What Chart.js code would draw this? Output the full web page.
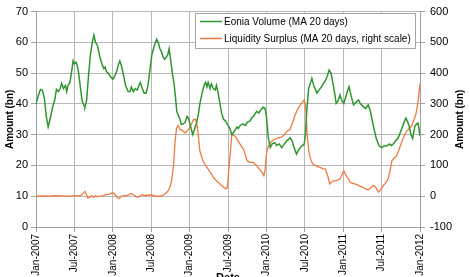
<!DOCTYPE html>
<html>
<head>
<meta charset="utf-8">
<script src="https://cdn.jsdelivr.net/npm/chart.js@4.4.1/dist/chart.umd.min.js"></script>
<style>
  html, body { margin: 0; padding: 0; background: #fff; }
  #wrap { width: 470px; height: 277px; position: relative; }
</style>
</head>
<body>
<div id="wrap"><canvas id="chart"></canvas></div>
<script>
// tick labels for the date axis (months since Jan-2007, every 6 months)
const dateLabels = ['Jan-2007', 'Jul-2007', 'Jan-2008', 'Jul-2008', 'Jan-2009', 'Jul-2009',
                    'Jan-2010', 'Jul-2010', 'Jan-2011', 'Jul-2011', 'Jan-2012'];

// Eonia volume, MA 20 days (left scale, bn) - x in months since Jan-2007
const eoniaMonths = [0, 0.4, 0.7, 1.0, 1.3, 1.6, 1.9, 2.2, 2.6, 2.9, 3.2, 3.5, 3.8, 4.0, 4.3, 4.6, 4.8, 5.0, 5.3, 5.6,
  5.8, 6.0, 6.3, 6.6, 6.9, 7.2, 7.5, 7.65, 7.9, 8.2, 8.5, 8.8, 9.05, 9.3, 9.6, 10.0, 10.3, 10.6, 10.8, 11.0,
  11.3, 11.6, 12.0, 12.3, 12.6, 12.9, 13.1, 13.4, 13.7, 14.0, 14.4, 14.7, 14.9, 15.2, 15.5, 15.8, 16.1, 16.3, 16.6, 16.9,
  17.2, 17.5, 17.8, 18.1, 18.5, 18.85, 19.1, 19.35, 19.6, 19.9, 20.1, 20.3, 20.6, 20.8, 21.0, 21.3, 21.6, 21.8, 22.0, 22.3,
  22.5, 22.7, 23.0, 23.3, 23.6, 23.8, 24.0, 24.3, 24.5, 24.8, 25.1, 25.4, 25.6, 25.9, 26.25, 26.5, 26.7, 26.9, 27.2, 27.4,
  27.7, 28.0, 28.2, 28.5, 28.75, 29.0, 29.3, 29.6, 30.0, 30.3, 30.6, 30.8, 31.1, 31.4, 31.6, 31.9, 32.3, 32.7, 33.0, 33.4,
  33.7, 34.0, 34.3, 34.5, 34.8, 35.1, 35.5, 35.8, 36.0, 36.3, 36.6, 36.9, 37.3, 37.6, 38.0, 38.4, 38.8, 39.2, 39.7, 40.0,
  40.3, 40.7, 41.0, 41.5, 41.9, 42.1, 42.3, 42.6, 43.1, 43.4, 43.9, 44.2, 44.6, 44.9, 45.2, 45.5, 45.8, 46.1, 46.4, 46.7,
  46.9, 47.2, 47.5, 47.8, 48.1, 48.5, 48.9, 49.2, 49.6, 50.0, 50.4, 50.7, 51.1, 51.5, 51.9, 52.2, 52.4, 52.8, 53.2, 53.6,
  54.0, 54.4, 54.8, 55.2, 55.5, 55.8, 56.2, 56.6, 57.1, 57.5, 57.8, 58.1, 58.3, 58.6, 58.85, 59.2, 59.5, 59.7, 60.0];
const eoniaVolume = [40, 43, 44.7, 44.5, 42, 36, 32.5, 35, 39, 41, 44.7, 44, 45, 46.7, 45, 46, 44, 46, 47, 51,
  54, 53, 53.5, 51, 46, 41, 39.5, 39, 41, 49, 56, 60, 62.4, 60, 59, 55, 53, 51.5, 52, 50.5,
  50, 49, 48, 49, 50.5, 53, 54, 52, 49, 46, 44, 44, 45.5, 44, 45, 44.5, 46, 47, 45, 43.5,
  43.5, 46, 51, 56, 59, 61, 60, 58, 57, 55, 54.5, 55, 56, 58, 55, 50, 46, 42, 37.5, 36,
  35, 33.3, 33.5, 34, 36, 35.5, 34, 31.5, 30, 32, 34, 37, 40, 43, 46, 47, 45.5, 47, 45, 46.5,
  45, 44.5, 46, 43, 40, 37, 35, 34.5, 33, 32, 30, 30.5, 31.5, 32.5, 32, 33, 33.5, 33, 34, 34.4,
  35.5, 36, 37, 37.6, 37, 38, 38.9, 38.5, 36, 29, 25.8, 27, 27.4, 26.5, 27, 25.8, 27, 28, 29, 28,
  26, 23.7, 25, 26.3, 26.9, 30, 37.6, 45, 48.3, 46, 43.5, 44.5, 45.5, 46.7, 47.5, 49, 51, 50, 46.7, 43,
  40.2, 41, 42.9, 41, 40.2, 43, 45.6, 43, 39.7, 40.5, 41.3, 40, 39.2, 38.5, 39.7, 38, 36, 32, 28.5, 26.5,
  25.8, 26.3, 26.3, 27, 26.5, 26.9, 28, 29, 31.7, 34, 35.4, 34, 32.8, 30, 28.8, 32.8, 33.5, 33.8, 29.5];

// Liquidity surplus, MA 20 days (right scale, bn)
const surplusMonths = [0, 1, 2, 3, 4, 5, 6, 7, 7.4, 7.65, 7.9, 8.1, 8.4, 8.7, 9.0, 9.3, 9.6, 10, 10.5, 11,
  11.5, 12, 12.4, 12.7, 13, 13.3, 13.8, 14.3, 14.9, 15.3, 15.9, 16.3, 16.6, 17, 17.5, 18, 18.3, 18.85, 19.3, 19.9,
  20.3, 20.7, 21.0, 21.2, 21.5, 21.7, 21.95, 22.2, 22.5, 22.8, 23.0, 23.3, 23.6, 24.0, 24.3, 24.6, 24.9, 25.1, 25.35, 25.6,
  26.1, 26.5, 26.9, 27.3, 27.7, 28.1, 28.5, 29.0, 29.4, 29.7, 29.9, 30.1, 30.3, 30.6, 30.9, 31.1, 31.6, 32.0, 32.4, 32.7,
  33.0, 33.4, 33.95, 34.5, 34.9, 35.3, 35.6, 35.8, 36.0, 36.3, 36.8, 37.3, 37.8, 38.4, 38.8, 39.2, 39.7, 40.1, 40.5, 40.9,
  41.3, 41.6, 41.9, 42.05, 42.2, 42.4, 42.7, 43.0, 43.3, 43.8, 44.4, 44.8, 45.2, 45.6, 45.9, 46.3, 46.7, 47.1, 47.5, 47.8,
  48.1, 48.4, 48.6, 48.9, 49.1, 49.5, 49.8, 50.1, 50.4, 50.8, 51.1, 51.5, 51.9, 52.2, 52.5, 52.8, 53.1, 53.5, 53.9, 54.3,
  54.7, 55.0, 55.3, 55.6, 56.0, 56.25, 56.7, 57.1, 57.5, 57.9, 58.3, 58.7, 59.1, 59.4, 59.7, 59.85, 60];
const liquiditySurplus = [0, 1, 0, 2, 1, 0, 2, 3, 10, 16, 5, -6, -3, 2, -4, 2, -2, 0, 2, 5,
  8, 12, 4, -4, -8, 0, 2, 3, 9, 4, -4, 2, 5, 2, 4, 4, 3, 0, 0, 4,
  10, 19, 35, 51, 104, 170, 220, 230, 217, 215, 211, 206, 212, 222, 235, 249, 250, 240, 200, 147,
  115, 100, 88, 75, 62, 52, 45, 35, 28, 24, 28, 80, 126, 200, 197, 195, 179, 165, 153, 135,
  115, 110, 110, 99, 88, 78, 67, 85, 137, 163, 179, 185, 190, 192, 200, 211, 217, 240, 265, 283,
  297, 305, 313, 300, 270, 190, 137, 115, 104, 98, 94, 90, 88, 65, 40, 48, 51, 52, 56, 70,
  83, 70, 62, 55, 45, 42, 40, 38, 35, 31, 29, 24, 21, 25, 32, 35, 28, 13, 22, 35,
  45, 56, 80, 115, 125, 128, 150, 174, 195, 211, 220, 228, 250, 270, 308, 335, 367];

const GREEN = '#2f962f';
const ORANGE = '#f07a42';
const FONT = '"Liberation Sans", Arial, sans-serif';

function toPoints(xs, ys) {
    return xs.map((x, i) => ({ x: x, y: ys[i] }));
}

// legend box drawn inside the plot area, like the original
const innerLegend = {
    id: 'innerLegend',
    afterDraw(chart) {
        const ctx = chart.ctx;
        const x0 = 195.5, y0 = 13.5, w = 220, h = 35;
        ctx.save();
        ctx.fillStyle = '#fff';
        ctx.fillRect(x0, y0, w, h);
        ctx.strokeStyle = '#a6a6a6';
        ctx.lineWidth = 1;
        ctx.strokeRect(x0, y0, w, h);
        ctx.font = '10px ' + FONT;
        ctx.textBaseline = 'middle';
        chart.data.datasets.forEach((ds, i) => {
            const y = 21.5 + i * 17;
            ctx.strokeStyle = ds.borderColor;
            ctx.lineWidth = 1.5;
            ctx.beginPath();
            ctx.moveTo(200, y);
            ctx.lineTo(222, y);
            ctx.stroke();
            ctx.fillStyle = '#000';
            ctx.fillText(ds.label, 224, y + 0.5);
        });
        ctx.restore();
    }
};

// right-hand axis title reads bottom-to-top in the original
const rightTitle = {
    id: 'rightTitle',
    afterDraw(chart) {
        const ctx = chart.ctx;
        const area = chart.chartArea;
        ctx.save();
        ctx.translate(460, (area.top + area.bottom) / 2);
        ctx.rotate(-Math.PI / 2);
        ctx.font = 'bold 10px ' + FONT;
        ctx.fillStyle = '#000';
        ctx.textAlign = 'center';
        ctx.textBaseline = 'middle';
        ctx.fillText('Amount (bn)', 0, 0);
        ctx.restore();
    }
};

const gridStyle = {
    color: '#b8b8b8',
    lineWidth: 1,
    borderDash: [2, 2],
    tickColor: '#a0a0a0',
    tickLength: 5,
    tickBorderDash: []
};

new Chart(document.getElementById('chart'), {
    type: 'line',
    data: {
        datasets: [{
            label: 'Eonia Volume (MA 20 days)',
            data: toPoints(eoniaMonths, eoniaVolume),
            borderColor: GREEN,
            borderWidth: 1.5,
            pointRadius: 0,
            tension: 0,
            yAxisID: 'y'
        }, {
            label: 'Liquidity Surplus (MA 20 days, right scale)',
            data: toPoints(surplusMonths, liquiditySurplus),
            borderColor: ORANGE,
            borderWidth: 1.3,
            pointRadius: 0,
            tension: 0,
            yAxisID: 'y2'
        }]
    },
    options: {
        responsive: true,
        maintainAspectRatio: false,
        animation: false,
        layout: { padding: { top: 9, left: 0, right: 0, bottom: 0 } },
        plugins: {
            legend: { display: false },
            tooltip: { enabled: false }
        },
        scales: {
            x: {
                type: 'linear',
                min: 0,
                max: 60,
                grid: gridStyle,
                border: { color: '#a0a0a0', width: 1 },
                ticks: {
                    stepSize: 6,
                    minRotation: 90,
                    maxRotation: 90,
                    padding: 2,
                    color: '#000',
                    font: { size: 10, family: FONT },
                    callback: (v) => dateLabels[Math.round(v / 6)]
                },
                title: {
                    display: true,
                    text: 'Date',
                    color: '#000',
                    font: { size: 11, weight: 'bold', family: FONT },
                    padding: { top: 0, bottom: -8 }
                },
                afterFit: (s) => { s.height = 50; }
            },
            y: {
                position: 'left',
                min: 0,
                max: 70,
                grid: gridStyle,
                border: { color: '#a0a0a0', width: 1 },
                ticks: {
                    stepSize: 10,
                    padding: 3,
                    color: '#000',
                    font: { size: 11, family: FONT }
                },
                title: {
                    display: true,
                    text: 'Amount (bn)',
                    color: '#000',
                    font: { size: 10, weight: 'bold', family: FONT },
                    padding: { top: 4, bottom: 0 }
                },
                afterFit: (s) => { s.width = 36; }
            },
            y2: {
                position: 'right',
                min: -100,
                max: 600,
                grid: { drawOnChartArea: false, tickColor: '#a0a0a0', tickLength: 5 },
                border: { color: '#a0a0a0', width: 1 },
                ticks: {
                    stepSize: 100,
                    padding: 5,
                    color: '#000',
                    font: { size: 11, family: FONT }
                },
                afterFit: (s) => { s.width = 50; }
            }
        }
    },
    plugins: [innerLegend, rightTitle]
});
</script>
</body>
</html>
